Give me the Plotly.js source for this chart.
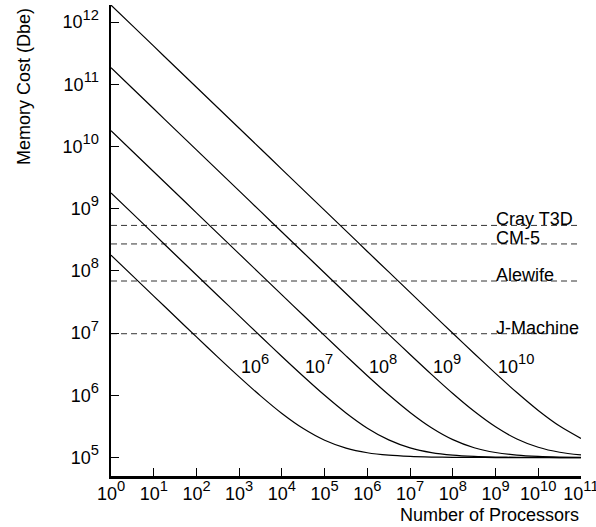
<!DOCTYPE html>
<html>
<head>
<meta charset="utf-8">
<script src="https://cdn.plot.ly/plotly-3.0.1.min.js"></script>
<style>html,body{margin:0;padding:0;background:#fff;}#chart{width:596px;height:527px;}</style>
</head>
<body>
<div id="chart"></div>
<script>
// Number of processors (x), half-decade steps from 10^0 to 10^11
const processors = [1, 3.162e0, 1e1, 3.162e1, 1e2, 3.162e2, 1e3, 3.162e3, 1e4, 3.162e4, 1e5, 3.162e5,
  1e6, 3.162e6, 1e7, 3.162e7, 1e8, 3.162e8, 1e9, 3.162e9, 1e10, 3.162e10, 1e11];

// Memory cost curves (Dbe)
const cost1e6 = [1.801e8, 8.43e7, 3.95e7, 1.851e7, 8.71e6, 4.13e6, 1.985e6, 9.82e5, 5.12e5, 2.93e5, 1.902e5, 1.422e5,
  1.197e5, 1.092e5, 1.043e5, 1.020e5, 1.009e5, 1.004e5, 1.002e5, 1.001e5, 1.000e5, 1.000e5, 1.000e5];
const cost1e7 = [1.8e9, 8.42e8, 3.941e8, 1.842e8, 8.62e7, 4.04e7, 1.895e7, 8.92e6, 4.22e6, 2.03e6, 1.002e6, 5.22e5,
  2.97e5, 1.923e5, 1.432e5, 1.202e5, 1.094e5, 1.044e5, 1.021e5, 1.010e5, 1.005e5, 1.002e5, 1.001e5];
const cost1e8 = [1.8e10, 8.42e9, 3.94e9, 1.841e9, 8.61e8, 4.03e8, 1.886e8, 8.83e7, 4.13e7, 1.94e7, 9.12e6, 4.32e6,
  2.07e6, 1.023e6, 5.32e5, 3.02e5, 1.945e5, 1.442e5, 1.207e5, 1.097e5, 1.045e5, 1.021e5, 1.010e5];
const cost1e9 = [1.85e11, 8.65e10, 4.05e10, 1.893e10, 8.85e9, 4.14e9, 1.937e9, 9.06e8, 4.24e8, 1.984e8, 9.28e7, 4.35e7,
  2.038e7, 9.59e6, 4.54e6, 2.176e6, 1.071e6, 5.54e5, 3.124e5, 1.993e5, 1.465e5, 1.217e5, 1.102e5];
const cost1e10 = [1.88e12, 8.79e11, 4.11e11, 1.923e11, 9.0e10, 4.21e10, 1.968e10, 9.21e9, 4.31e9, 2.015e9, 9.42e8, 4.41e8,
  2.06e8, 9.65e7, 4.52e7, 2.12e7, 9.97e6, 4.72e6, 2.26e6, 1.11e6, 5.72e5, 3.21e5, 2.03e5];

const curveSeries = [cost1e6, cost1e7, cost1e8, cost1e9, cost1e10];
const curveExponents = ["6", "7", "8", "9", "10"];
const curveLabelX = [1e3, 3.162e4, 1e6, 3.162e7, 1e9];
const curveLabelY = [3.2e6, 3.2e6, 3.2e6, 3.2e6, 3.2e6];

// Machines (horizontal reference levels)
const machines = ["Cray T3D", "CM-5", "Alewife", "J-Machine"];
const machineCost = [5.4e8, 2.72e8, 6.9e7, 9.8e6];
const machineLabelX = 1e9;
const lineX = [1, 1e11];

// Tick values and exponents for labels
const xTickVals = [1, 1e1, 1e2, 1e3, 1e4, 1e5, 1e6, 1e7, 1e8, 1e9, 1e10, 1e11];
const xTickExp = ["0", "1", "2", "3", "4", "5", "6", "7", "8", "9", "10", "11"];
const yTickVals = [1e5, 1e6, 1e7, 1e8, 1e9, 1e10, 1e11, 1e12];
const yTickExp = ["5", "6", "7", "8", "9", "10", "11", "12"];

const FONT = "Liberation Sans, Arial, sans-serif";
function pow10(e) { return "10<span style=\"font-size:21px\"><sup>" + e + "</sup></span>"; }

const traces = [];
machineCost.forEach(function (v) {
  traces.push({x: lineX, y: [v, v], mode: "lines", type: "scatter",
    line: {color: "#333", width: 1, dash: "6px,4px"}, hoverinfo: "skip", showlegend: false});
});
curveSeries.forEach(function (s) {
  traces.push({x: processors, y: s, mode: "lines", type: "scatter",
    line: {color: "#000", width: 1.2, shape: "spline", smoothing: 0.8}, hoverinfo: "skip", showlegend: false, cliponaxis: false});
});

const annotations = [];
machines.forEach(function (m, i) {
  annotations.push({x: Math.log10(machineLabelX), y: Math.log10(machineCost[i]), xref: "x", yref: "y",
    text: m, showarrow: false, xanchor: "left", yanchor: "bottom", yshift: -6, xshift: -2,
    font: {family: FONT, size: 18, color: "#000"}});
});
curveExponents.forEach(function (t, i) {
  annotations.push({x: Math.log10(curveLabelX[i]), y: Math.log10(curveLabelY[i]), xref: "x", yref: "y",
    text: pow10(t), showarrow: false, xanchor: "left", yanchor: "middle",
    font: {family: FONT, size: 18, color: "#000"}});
});
annotations.push({x: -0.185, y: 0.826, xref: "paper", yref: "paper", text: "Memory Cost (Dbe)", textangle: -90,
  showarrow: false, xanchor: "center", yanchor: "middle", font: {family: FONT, size: 18, color: "#000"}});
annotations.push({x: 1.0, y: -0.108, xref: "paper", yref: "paper", text: "Number of Processors",
  showarrow: false, xanchor: "right", yanchor: "bottom", font: {family: FONT, size: 18, color: "#000"}});

const layout = {
  width: 596, height: 527,
  margin: {l: 111, r: 15, t: 5, b: 51, pad: 0},
  paper_bgcolor: "#fff", plot_bgcolor: "#fff",
  font: {family: FONT, size: 18, color: "#000"},
  showlegend: false,
  xaxis: {type: "log", range: [-0.0005, 11.0005], showgrid: false, zeroline: false, showline: true, linecolor: "#000", linewidth: 2.5,
    ticks: "inside", ticklen: 8, tickwidth: 1, tickcolor: "#000", tickvals: xTickVals, ticktext: xTickExp.map(pow10),
    ticklabeloverflow: "allow", tickfont: {family: FONT, size: 18, color: "#000"}, fixedrange: true},
  yaxis: {type: "log", range: [4.704, 12.276], showgrid: false, zeroline: false, showline: true, linecolor: "#000", linewidth: 2.5,
    ticks: "inside", ticklen: 8, tickwidth: 1, tickcolor: "#000", tickvals: yTickVals, ticktext: yTickExp.map(pow10),
    ticklabeloverflow: "allow", tickfont: {family: FONT, size: 18, color: "#000"}, ticklabelstandoff: 6, fixedrange: true},
  annotations: annotations
};

Plotly.newPlot("chart", traces, layout, {displayModeBar: false, staticPlot: true});
</script>
</body>
</html>
